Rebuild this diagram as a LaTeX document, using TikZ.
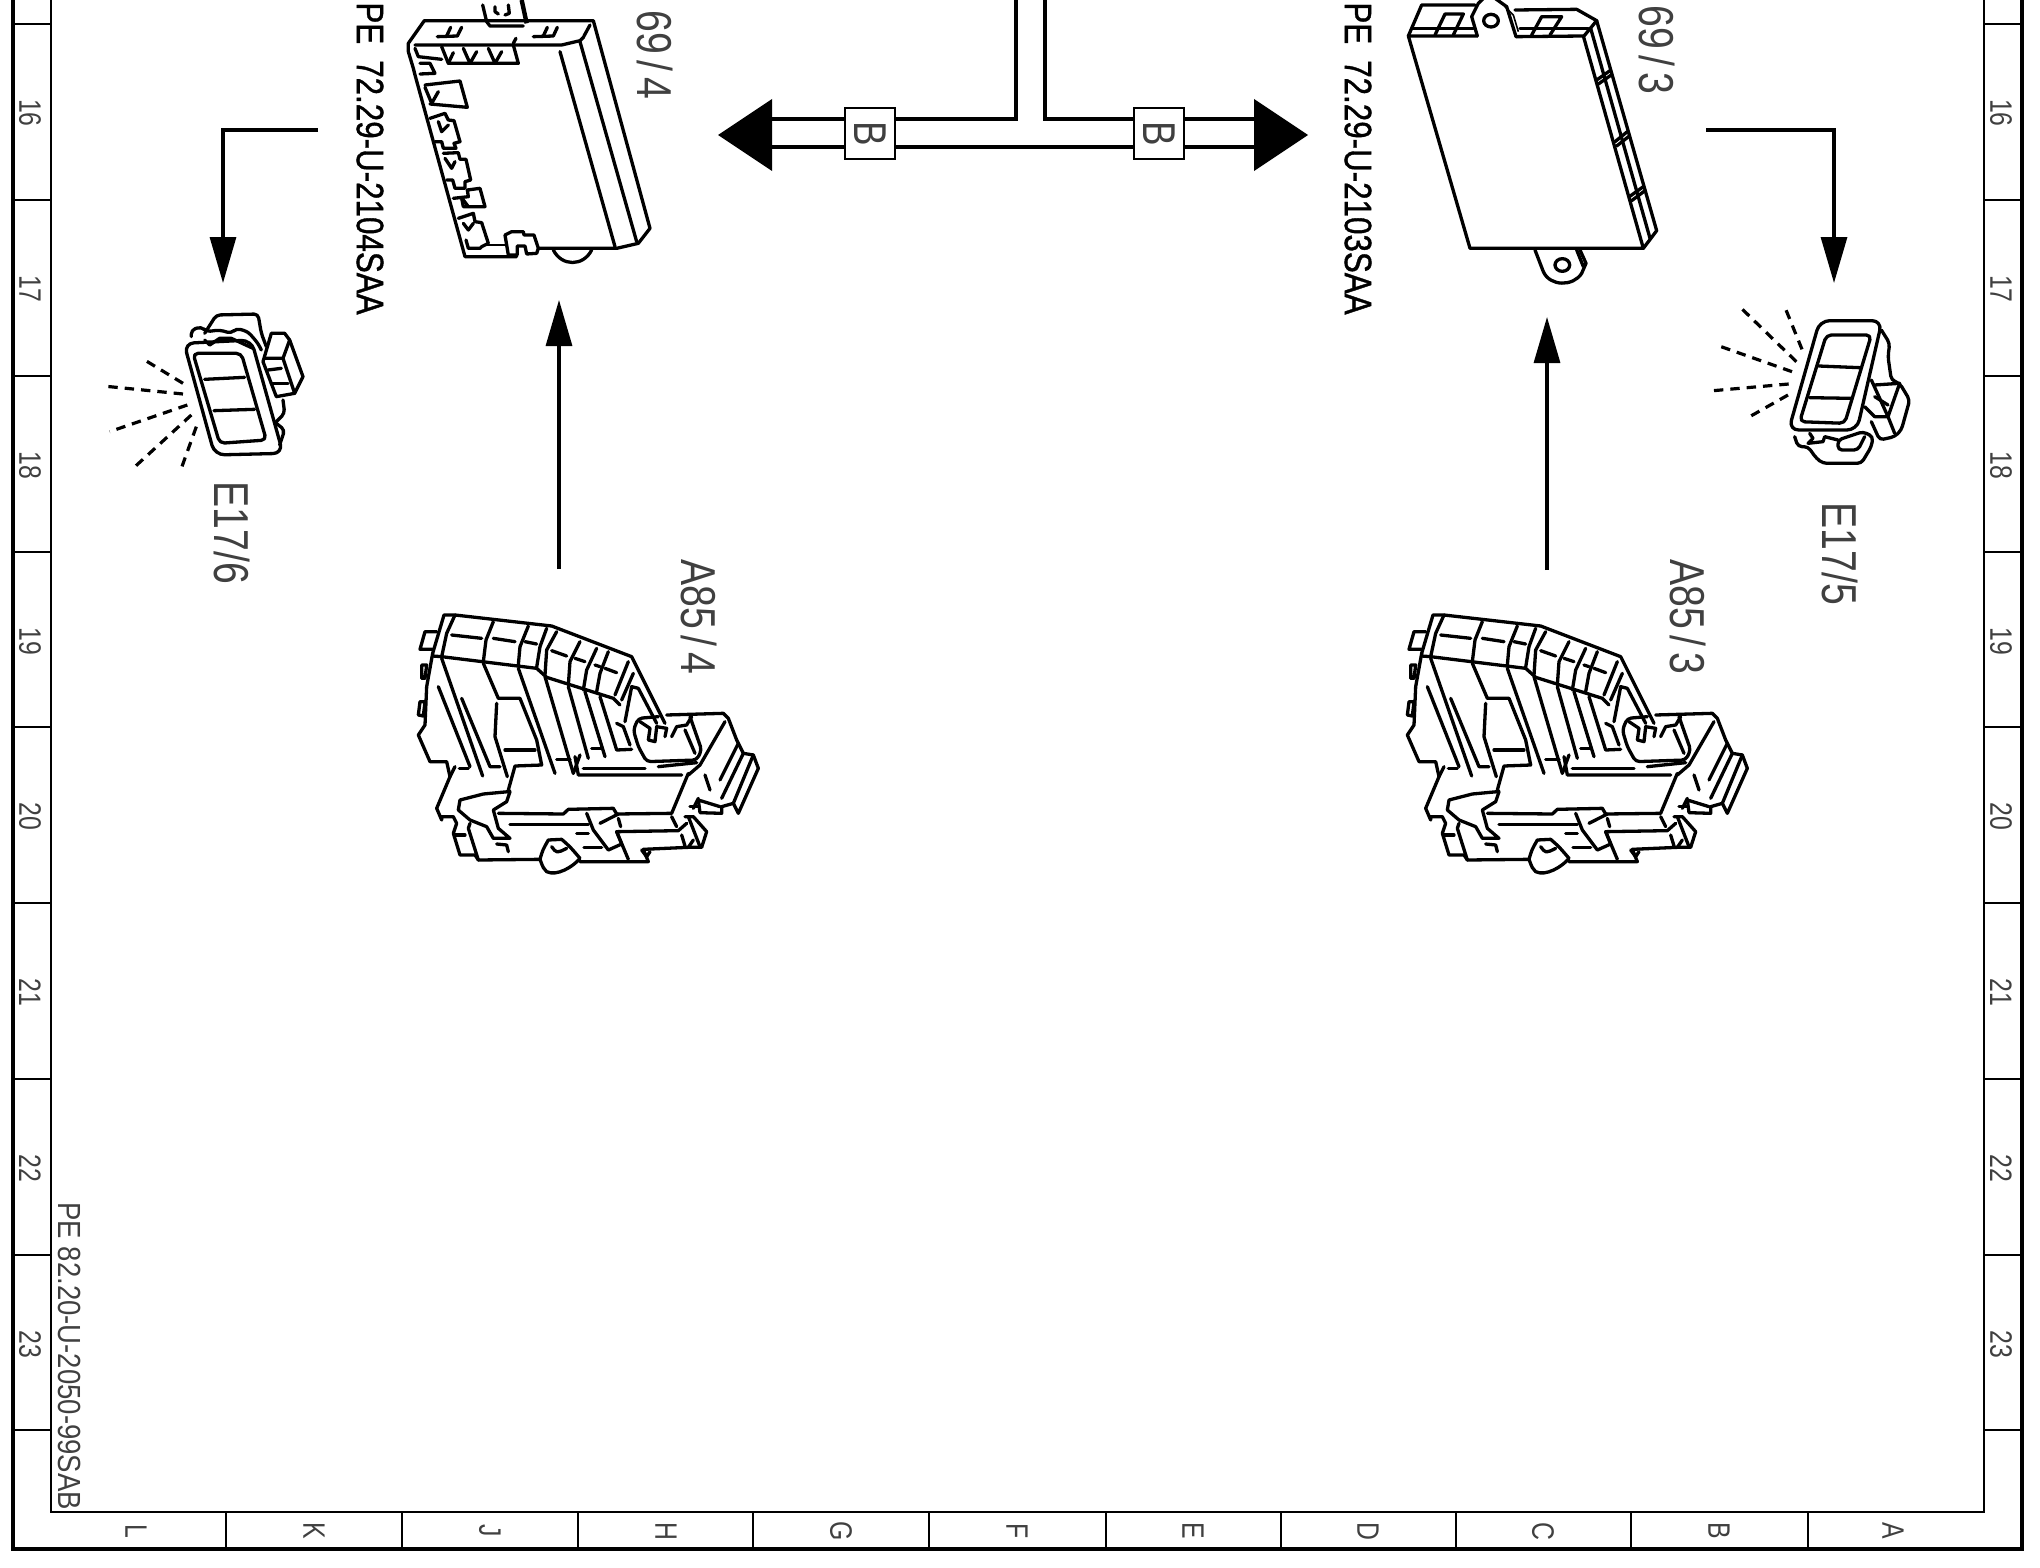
\documentclass[tikz,border=0pt]{standalone}
\usepackage{fontspec}
\usetikzlibrary{arrows.meta}
\newfontfamily\nar[FakeStretch=0.8]{Liberation Sans}
\newfontfamily\notefont[FakeStretch=0.86]{Liberation Sans}
\newfontfamily\pefont[FakeStretch=0.825,FakeBold=1]{Liberation Sans}
\definecolor{inkgray}{gray}{0.25}
\tikzset{
  frameline/.style={line width=1.3pt,black},
  heavy/.style={line width=2.2pt,black},
  part/.style={line width=1.65pt,black,line join=round,line cap=round},
  softpart/.style={part,rounded corners=2pt},
  thinpart/.style={line width=0.8pt,black},
  ray/.style={line width=1.6pt,black,dash pattern=on 4.7pt off 3.5pt},
  pointer/.style={line width=1.6pt,black,-{Triangle[length=23pt,width=13pt]}},
  wire/.style={line width=1.6pt,black},
  tag/.style={rotate=-90,inner sep=0pt,text=inkgray,font=\nar\fontsize{24.5pt}{24.5pt}\selectfont},
  petag/.style={rotate=-90,inner sep=0pt,anchor=west,text=black,font=\pefont\fontsize{19pt}{19pt}\selectfont},
  ticktext/.style={rotate=-90,inner sep=0pt,text=inkgray,font=\nar\fontsize{15.5pt}{15.5pt}\selectfont},
  notetext/.style={rotate=-90,inner sep=0pt,anchor=west,text=inkgray,font=\notefont\fontsize{16pt}{16pt}\selectfont},
  bbox/.style={draw=black,fill=white,line width=1.4pt,minimum width=25pt,minimum height=25.5pt,inner sep=0pt,text=inkgray,font=\nar\fontsize{23pt}{23pt}\selectfont},
}
\newcommand{\relaydrawing}{%
  \draw[part] (110,125)--(75,125)--(60,178)--(98,178);
  \draw[part] (98,190)--(132,75)--(165,75)--(455,108)--(695,200)--(795,400);
  \draw[part] (165,75)--(140,130)--(125,200);
  \draw[part] (98,198)--(125,200)--(410,235)--(440,262)--(640,325)--(660,345);
  \draw[part] (280,95)--(258,150)--(250,215);
  \draw[part] (385,108)--(360,170)--(355,225);
  \draw[part] (440,115)--(420,170)--(410,232);
  \draw[part] (470,125)--(440,180)--(435,255);
  \draw[part] (540,155)--(510,215)--(505,285);
  \draw[part] (590,175)--(560,240)--(550,300);
  \draw[part] (625,185)--(600,250)--(590,305);
  \foreach \a/\b/\c/\d in {155/135/245/145,280/145/345/155,375/155/410/162,455/182/500/198,525/205/555/215,585/225/600/230,615/235/650/248,685/215/645/315,700/250/665/330}
    \draw[part] (\a,\b)--(\c,\d);
  \draw[part] (715,295)--(695,290)--(675,395);
  \draw[part] (715,295)--(770,400);
  \draw[part] (125,205)--(248,558);
  \draw[part] (115,290)--(210,530);
  \draw[part] (185,325)--(270,530)--(300,530);
  \draw[part] (250,220)--(295,325)--(360,325)--(410,450)--(425,525)--(345,528)--(325,600)--(330,605)--(320,635)--(280,660)--(295,715)--(330,745)--(280,745)--(260,710)--(210,690)--(175,660)--(180,630)--(250,612)--(325,605);
  \draw[part] (290,340)--(285,440)--(322,560);
  \draw[part] (315,480)--(405,480);
  \draw[part] (355,235)--(465,550);
  \draw[part] (435,260)--(520,550);
  \draw[part] (505,290)--(565,505);
  \draw[part] (555,305)--(615,500);
  \draw[part] (600,320)--(650,480)--(695,478);
  \draw[part] (470,508)--(510,508);
  \draw[part] (575,475)--(605,475);
  \draw[part] (540,495)--(520,550);
  \draw[part] (525,500)--(535,555)--(845,555);
  \draw[part] (550,535)--(735,535);
  \draw[part] (775,530)--(890,518);
  \draw[part] (865,550)--(815,670)--(650,672)--(640,655)--(505,658)--(490,672)--(295,670);
  \draw[part] (800,375)--(970,370)--(985,385)--(1010,450)--(1030,490)--(1060,495)--(1075,535)--(1015,670)--(1000,640)--(965,650)--(965,670)--(900,668)--(895,630)--(960,650);
  \draw[part] (915,555)--(930,600);
  \draw[part] (975,395)--(900,525)--(865,555);
  \draw[softpart] (870,380)--(905,480)--(890,510)--(740,515)--(715,470)--(700,420)--(715,385)--(775,380);
  \draw[part] (720,395)--(750,415)--(745,450)--(765,455)--(770,410)--(800,415)--(795,440);
  \draw[part] (815,440)--(830,410)--(860,405)--(875,380);
  \draw[part] (855,420)--(885,490);
  \draw[part] (650,400)--(670,410)--(690,465);
  \draw[part] (1015,460)--(960,570);
  \draw[part] (1030,490)--(965,625);
  \draw[part] (1060,495)--(1000,640);
  \draw[part] (98,190)--(80,290)--(75,405)--(55,435)--(90,515)--(140,515)--(150,560)--(110,655)--(125,690)--(125,680)--(160,680)--(170,700)--(160,730)--(180,795)--(225,795)--(235,810)--(420,808);
  \draw[part] (420,808) .. controls (428,780) .. (445,750)--(485,748) .. controls (510,770) .. (540,805) .. controls (520,830) and (470,860) .. (440,845) .. controls (430,835) .. (420,808);
  \draw[part] (65,225)--(80,225)--(75,265)--(65,265)--cycle;
  \draw[part] (60,335)--(75,335)--(70,378)--(55,375)--cycle;
  \draw[part] (235,810)--(205,715)--(210,700);
  \draw[part] (165,735)--(195,735);
  \draw[part] (290,762)--(320,765)--(325,785);
  \draw[part] (165,530)--(150,560);
  \draw[part] (178,535)--(205,535);
  \draw[part] (330,703)--(565,703);
  \draw[part] (530,730)--(565,730);
  \draw[part] (552,772)--(605,772);
  \draw[part] (560,670)--(580,720)--(625,780)--(665,762)--(650,725)--(835,722)--(860,700);
  \draw[part] (600,700)--(655,672);
  \draw[part] (650,725)--(685,808);
  \draw[part] (655,685)--(662,710);
  \draw[part] (815,680)--(830,710);
  \draw[part] (845,735)--(855,768);
  \draw[part] (855,680)--(880,680)--(920,725)--(905,772)--(865,772)--(730,778)--(745,815)--(540,815);
  \draw[part] (725,780)--(740,800)--(750,785);
  \draw[part] (865,680)--(900,770);
  \draw[part] (880,655)--(895,625);
  \draw[part] (870,650)--(895,650);
  \draw[part] (865,772)--(880,750);
  \draw[part] (455,770) .. controls (470,790) .. (500,775);
}
\begin{document}
\begin{tikzpicture}[x=0.5pt,y=-0.5pt]
\useasboundingbox (0,0) rectangle (2040,1568);
\clip (0,0) rectangle (2040,1568);
% frame
\draw[heavy] (13,-20)--(13,1549)--(2022,1549)--(2022,-20);
\draw[frameline] (51,-20)--(51,1512)--(1984,1512)--(1984,-20);
\foreach \yy in {24,200,376,552,727,903,1079,1255,1430}{
  \draw[frameline] (13,\yy)--(51,\yy);
  \draw[frameline] (1984,\yy)--(2022,\yy);
}
\foreach \xx in {226,402,578,753,929,1106,1281,1456,1631,1808}
  \draw[frameline] (\xx,1512)--(\xx,1549);
\foreach \nn/\yy in {16/113,17/289,18/465,19/641,20/816,21/992,22/1168,23/1344}{
  \node[ticktext] (l\nn) at (30,\yy) {\nn};
  \node[ticktext] (r\nn) at (2001,\yy) {\nn};
}
\foreach \ll/\xx in {L/136,K/314,J/490,H/666,G/841,F/1017,E/1193,D/1368,C/1543,B/1719,A/1893}
  \node[ticktext] (c\ll) at (\xx,1531) {\ll};
\node[notetext] (note) at (70,1202) {PE 82.20-U-2050-99SAB};
% harness
\node[bbox] (b1) at (870,133.5) {\rotatebox{-90}{B}};
\node[bbox] (b2) at (1159,133.5) {\rotatebox{-90}{B}};
\coordinate (vl) at (1016,-10);
\coordinate (vr) at (1045,-10);
\coordinate (hl) at (772,119);
\coordinate (hr) at (1254,119);
\coordinate (ll) at (772,147);
\coordinate (lr) at (1254,147);
\draw[wire,line join=miter] (vl)--(1016,119)--(b1.east |- hl);
\draw[wire,line join=miter] (vr)--(1045,119)--(b2.west |- hr);
\draw[wire] (hl)--(b1.west |- hl);
\draw[wire] (b2.east |- hr)--(hr);
\draw[wire] (ll)--(b1.west |- ll);
\draw[wire] (b1.east |- ll)--(b2.west |- ll);
\draw[wire] (b2.east |- lr)--(lr);
\fill (718,135)--(772,99)--(772,171)--cycle;
\fill (1308,135)--(1254,99)--(1254,171)--cycle;
% 69/4
\begin{scope}[shift={(380,0)},xscale=1/3,yscale=1/3]
  \draw[part] (85,155)--(85,130)--(133,62)--(640,62)--(810,685)--(775,730)--(710,745)--(475,745);
  \draw[part] (85,155)--(100,205)--(105,225)--(255,770)--(410,770);
  \draw[part] (105,135)--(545,135)--(600,122)--(612,110);
  \draw[part] (612,108)--(630,75);
  \draw[part] (400,130)--(408,115);
  \draw[part] (540,155)--(705,740);
  \draw[part] (600,125)--(770,725);
  \draw[part] (172,110)--(232,108)--(245,82);
  \draw[part] (200,108)--(212,82);
  \draw[part] (460,110)--(520,108)--(532,82);
  \draw[part] (490,108)--(502,82);
  \draw[part] (185,140)--(205,190)--(415,190)--(400,135);
  \draw[part] (205,190)--(220,158);
  \draw[part] (250,145)--(270,190)--(290,155);
  \draw[part] (325,145)--(345,190)--(365,155);
  \draw[part] (105,145)--(115,170)--(185,178);
  \draw[part] (120,190)--(150,190)--(165,220)--(120,222);
  \draw[part] (135,255)--(240,243)--(262,322)--(150,312);
  \draw[part] (135,262)--(155,310)--(175,275);
  \draw[part] (150,355)--(195,340)--(205,360)--(222,362)--(240,425)--(222,430)--(228,445)--(190,445)--(185,425)--(165,425);
  \draw[part] (175,365)--(185,395)--(205,375);
  \draw[part] (190,460)--(235,458)--(240,478)--(258,478)--(272,540)--(255,545)--(255,565)--(225,565)--(218,540)--(200,540);
  \draw[part] (195,475)--(215,505)--(225,485);
  \draw[part] (220,595)--(265,590)--(262,570)--(300,565)--(315,620)--(250,620)--(245,595);
  \draw[part] (250,600)--(265,620);
  \draw[part] (235,655)--(280,640)--(285,665)--(305,668)--(325,730)--(305,740)--(300,745)--(265,745)--(258,720);
  \draw[part] (250,670)--(265,690)--(280,670);
  \draw[thinpart] (320,735)--(375,735);
  \draw[part] (375,705)--(395,695)--(430,695)--(432,705)--(462,705)--(475,745)--(470,760)--(440,762)--(435,738)--(412,738)--(412,765)--(385,765)--cycle;
  \draw[part] (308,15)--(320,65)--(330,78)--(430,78);
  \draw[part] (345,20)--(345,35)--(355,42);
  \draw[part] (385,15)--(388,40)--(375,45);
  \draw[line width=2.2pt] (425,0)--(440,70);
  \draw[part] (520,750) .. controls (545,800) and (610,800) .. (635,750);
\end{scope}
% 69/3
\begin{scope}[shift={(1380,0)},xscale=1/3,yscale=1/3]
  \draw[part] (292,108)--(85,108)--(270,745)--(790,745)--(610,108)--(408,110);
  \draw[part] (100,85)--(280,85);
  \draw[part] (420,85)--(625,85);
  \draw[part] (85,108)--(125,15)--(285,15);
  \draw[part] (405,30)--(590,28)--(650,62)--(612,108);
  \draw[part] (650,62)--(830,692)--(790,745);
  \draw[part] (632,85)--(810,715);
  \draw[part] (292,108)--(275,50)--(295,10)--(310,-5);
  \draw[part] (345,-5)--(380,20)--(408,110);
  \draw[thinpart] (375,20)--(400,45)--(415,95);
  \draw[part] (333,62) ellipse [x radius=22,y radius=19];
  \draw[part] (165,105)--(195,42)--(250,42)--(220,105);
  \draw[part] (455,105)--(485,50)--(545,50)--(510,105);
  \draw[part] (650,240)--(690,212);
  \draw[part] (655,252)--(695,224);
  \draw[part] (705,425)--(742,395);
  \draw[part] (710,438)--(748,408);
  \draw[part] (748,590)--(790,560);
  \draw[part] (755,602)--(795,572);
  \draw[part] (465,750)--(490,815) .. controls (510,860) and (580,860) .. (605,820)--(618,790)--(600,750);
  \draw[part] (590,750)--(610,800);
  \draw[part] (547,795) ellipse [x radius=22,y radius=19];
\end{scope}
% relays
\begin{scope}[shift={(400,590)},xscale=1/3,yscale=1/3]\relaydrawing\end{scope}
\begin{scope}[shift={(1389,590)},xscale=1/3,yscale=1/3]\relaydrawing\end{scope}
% E17/6
\begin{scope}[shift={(88,290)},xscale=1/3,yscale=1/3]
  \draw[part,rounded corners=5pt] (288,160)--(490,150)--(585,490)--(380,495)--cycle;
  \draw[part,rounded corners=2.5pt] (315,190)--(460,190)--(535,450)--(395,460)--cycle;
  \draw[part] (350,268)--(470,262);
  \draw[part] (378,362)--(500,358);
  \draw[softpart] (350,130)--(385,75)--(510,72)--(520,130)--(535,170);
  \draw[softpart] (310,140)--(310,120)--(340,110)--(355,125)--(395,120)--(430,130)--(445,115)--(480,125)--(510,160)--(520,180);
  \draw[part] (350,150)--(365,165)--(395,145)--(430,145)--(495,175);
  \draw[part] (525,215)--(550,130)--(590,130)--(605,150)--(645,260)--(620,310)--(565,320)--(525,215);
  \draw[part] (530,205)--(585,205)--(605,150);
  \draw[part] (585,205)--(620,310);
  \draw[part] (540,240)--(580,235);
  \draw[part] (550,280)--(600,280);
  \draw[softpart] (585,330)--(590,370)--(560,400);
  \draw[softpart] (565,400)--(590,420)--(575,465);
  \draw[ray] (285,280)--(170,210);
  \draw[ray] (285,312)--(45,288);
  \draw[ray] (298,345)--(65,425);
  \draw[ray] (310,375)--(130,540);
  \draw[ray] (325,410)--(280,535);
\end{scope}
% E17/5
\begin{scope}[shift={(1698,290)},xscale=1/3,yscale=1/3]
  \draw[part,rounded corners=5pt] (365,92)--(552,92)--(477,420)--(272,420)--cycle;
  \draw[part,rounded corners=2.5pt] (385,135)--(520,135)--(440,400)--(305,395)--cycle;
  \draw[part] (362,228)--(485,233);
  \draw[part] (335,323)--(458,325);
  \draw[softpart] (290,440)--(300,470)--(330,470)--(355,505)--(375,520)--(490,520)--(520,470)--(525,440)--(495,425)--(420,450)--(420,480)--(480,480)--(500,440);
  \draw[part] (335,430)--(345,445)--(330,460)--(375,455)--(380,440)--(420,450);
  \draw[softpart] (550,120)--(575,160)--(570,200)--(580,270)--(605,280)--(635,330)--(610,420)--(590,440)--(545,450)--(520,395);
  \draw[part] (530,285)--(605,280);
  \draw[part] (520,270)--(570,380);
  \draw[part] (500,350)--(530,380)--(570,380)--(605,280);
  \draw[part] (570,380)--(590,430);
  \draw[part] (530,320)--(570,345);
  \draw[ray] (295,215)--(125,50);
  \draw[ray] (312,178)--(262,55);
  \draw[ray] (282,245)--(55,165);
  \draw[ray] (272,282)--(35,303);
  \draw[ray] (270,315)--(155,380);
\end{scope}
% pointers
\coordinate (p1s) at (318,130);
\coordinate (p1e) at (223,283);
\coordinate (p2s) at (1706,130);
\coordinate (p2e) at (1834,283);
\coordinate (p3s) at (559,569);
\coordinate (p3e) at (559,300);
\coordinate (p4s) at (1547,570);
\coordinate (p4e) at (1547,317);
\draw[pointer,line join=miter] (p1s)--(223,130)--(p1e);
\draw[pointer,line join=miter] (p2s)--(1834,130)--(p2e);
\draw[pointer] (p3s)--(p3e);
\draw[pointer] (p4s)--(p4e);
% labels
\node[tag] (t694) at (655,55) {69\kern3pt/\kern3pt4};
\node[tag] (t693) at (1657,50) {69\kern3pt/\kern3pt3};
\node[tag] (te6) at (232,533) {E17/6};
\node[tag] (te5) at (1840,554) {E17/5};
\node[tag] (ta4) at (699,617) {A85\kern3pt/\kern3pt4};
\node[tag] (ta3) at (1688,617) {A85\kern3pt/\kern3pt3};
\node[petag] (t1) at (370,2) {PE\kern8pt 72.29-U-2104SAA};
\node[petag] (t2) at (1358,2) {PE\kern8pt 72.29-U-2103SAA};
\end{tikzpicture}
\end{document}
